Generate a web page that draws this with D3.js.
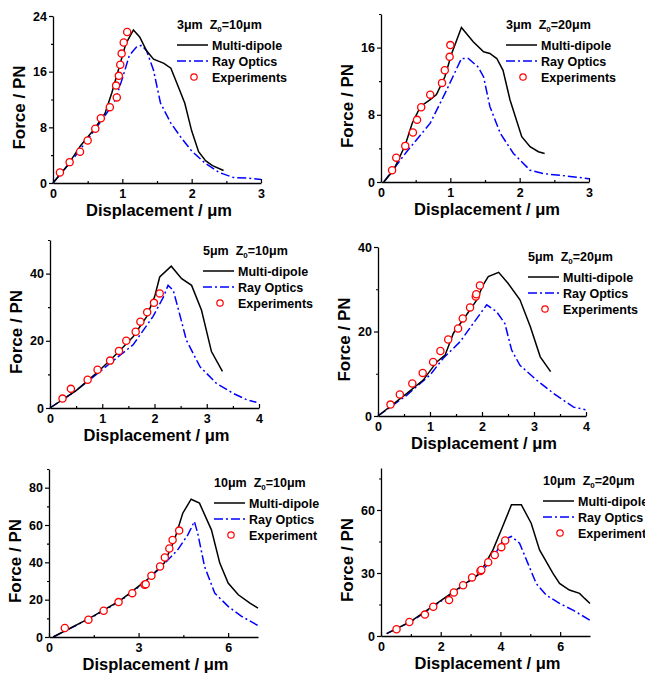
<!DOCTYPE html>
<html>
<head>
<meta charset="utf-8">
<script src="https://cdn.jsdelivr.net/npm/d3@7"></script>
<style>
  body { margin: 0; background: #fff; }
  svg { display: block; font-family: "Liberation Sans", Arial, sans-serif; }
</style>
</head>
<body>
<svg id="canvas" width="645" height="673"></svg>
<script>
// ---- data ----
const titles = [["3μm", "10μm"], ["3μm", "20μm"], ["5μm", "10μm"], ["5μm", "20μm"], ["10μm", "10μm"], ["10μm", "20μm"]]
const expLabels = ["Experiments", "Experiments", "Experiments", "Experiments", "Experiment", "Experiment"]
const xMax = [3, 3, 4, 4, 7, 7]
const yMax = [24, 20, 50, 40, 90, 80]
const xTicks = [[0, 1, 2, 3], [0, 1, 2, 3], [0, 1, 2, 3, 4], [0, 1, 2, 3, 4], [0, 3, 6], [0, 2, 4, 6]]
const yTicks = [[0, 8, 16, 24], [0, 8, 16], [0, 20, 40], [0, 20, 40], [0, 20, 40, 60, 80], [0, 30, 60]]

const multi1 = [[0, 0], [0.2, 2.4], [0.4, 5.4], [0.6, 7.8], [0.75, 10], [0.85, 13], [0.95, 16.5], [1.05, 20], [1.16, 22], [1.25, 21], [1.35, 19], [1.45, 17.8], [1.6, 17.2], [1.7, 16.5], [1.8, 14], [1.9, 11.5], [2.0, 7.5], [2.1, 4.5], [2.2, 3.2], [2.3, 2.5], [2.46, 1.8]]
const ray1 = [[0, 0], [0.3, 3.6], [0.6, 7.6], [0.8, 10.4], [0.9, 12], [1.0, 15], [1.1, 18.3], [1.2, 19.5], [1.28, 19.8], [1.35, 19], [1.45, 16.2], [1.55, 11.5], [1.7, 8.6], [1.85, 6.5], [2.0, 4.6], [2.2, 2.8], [2.4, 1.5], [2.6, 0.8], [2.8, 0.7], [3.0, 0.5]]
const exp1 = [[0.1, 1.5], [0.24, 3.0], [0.39, 4.5], [0.5, 6.1], [0.61, 7.8], [0.69, 9.3], [0.82, 10.9], [0.92, 12.3], [0.91, 14.0], [0.95, 15.4], [0.97, 17.0], [0.99, 18.6], [1.02, 20.2], [1.07, 21.7]]

const multi2 = [[0.04, 0], [0.18, 1.4], [0.35, 4.4], [0.45, 7], [0.57, 9], [0.71, 9.8], [0.8, 10.4], [0.92, 12.5], [1.02, 15.3], [1.16, 18.4], [1.33, 16.7], [1.48, 15.5], [1.57, 15.3], [1.67, 14.7], [1.76, 13.3], [1.86, 9.8], [2.03, 5.4], [2.15, 4.2], [2.27, 3.6], [2.36, 3.4]]
const ray2 = [[0.04, 0], [0.37, 3.6], [0.71, 7], [0.95, 11], [1.16, 14.7], [1.26, 14.7], [1.4, 13.7], [1.48, 12.5], [1.57, 9], [1.72, 5.8], [1.91, 3.4], [2.15, 1.4], [2.34, 1.0], [2.58, 0.8], [3.0, 0.4]]
const exp2 = [[0.16, 1.4], [0.22, 2.9], [0.35, 4.3], [0.46, 5.9], [0.52, 7.4], [0.58, 8.9], [0.71, 10.4], [0.88, 11.8], [0.92, 13.3], [0.99, 14.9], [1.0, 16.3]]

const multi3 = [[0, 0], [0.5, 5.2], [0.96, 11.4], [1.3, 16.5], [1.59, 21.2], [1.85, 27.2], [2.0, 33], [2.1, 39], [2.32, 42.2], [2.52, 38.5], [2.71, 36.5], [2.9, 29.1], [3.09, 16.8], [3.3, 10.9]]
const ray3 = [[0, 0], [0.5, 5.2], [0.96, 10.9], [1.3, 15.2], [1.59, 18.8], [1.97, 27.2], [2.17, 33], [2.26, 36.5], [2.36, 35], [2.48, 28], [2.61, 20.2], [2.87, 12.3], [3.18, 7.4], [3.5, 4.4], [3.76, 2.5], [3.95, 1.7]]
const exp3 = [[0.24, 2.8], [0.4, 5.7], [0.72, 8.4], [0.91, 11.4], [1.15, 14.1], [1.32, 17], [1.46, 20], [1.64, 22.7], [1.73, 25.7], [1.86, 28.5], [1.99, 31.3], [2.1, 34.1]]

const multi4 = [[0, 0], [0.55, 5.3], [0.87, 8.5], [1.13, 12.8], [1.29, 14.4], [1.45, 19.6], [1.7, 23.9], [1.9, 27.5], [2.02, 31], [2.12, 33], [2.32, 34], [2.5, 31.4], [2.73, 27.5], [2.93, 21.1], [3.12, 14], [3.32, 10.5]]
const ray4 = [[0, 0], [0.55, 4.9], [1.0, 9.7], [1.25, 13.6], [1.58, 17.6], [1.83, 21.9], [2.09, 26.3], [2.28, 24.7], [2.44, 21.9], [2.57, 15.6], [2.73, 12], [3.05, 8.5], [3.38, 5.3], [3.76, 2.1], [3.99, 1.5]]
const exp4 = [[0.24, 2.7], [0.42, 5.1], [0.66, 7.7], [0.86, 10.2], [1.06, 12.8], [1.2, 15.4], [1.35, 18.1], [1.54, 20.7], [1.63, 23.1], [1.77, 25.7], [1.88, 28.3], [1.89, 28.8], [1.96, 30.9]]

const multi5 = [[0.14, 0], [1.38, 10.2], [2.39, 19.6], [3.29, 30.7], [3.86, 39.6], [4.2, 52], [4.48, 66.3], [4.76, 73.8], [5.04, 71.7], [5.44, 57.4], [5.72, 39.6], [6.0, 28.9], [6.34, 22.6], [6.73, 18.2], [7.0, 15.5]]
const ray5 = [[0.14, 0], [1.38, 10], [2.39, 19.3], [3.29, 30.4], [3.86, 39.2], [4.31, 46.7], [4.65, 54.7], [4.87, 61.9], [4.98, 55.6], [5.21, 37.8], [5.55, 23.5], [6.0, 16.4], [6.45, 11.1], [7.0, 6.1]]
const exp5 = [[0.53, 4.8], [1.32, 9.3], [1.83, 14.1], [2.33, 18.7], [2.79, 23.5], [3.2, 28.0], [3.24, 28.3], [3.43, 32.8], [3.72, 37.8], [3.88, 42.6], [4.03, 47.4], [4.14, 52], [4.36, 57]]

const multi6 = [[0.19, 1.1], [1.0, 7.0], [1.75, 14.4], [2.75, 24.2], [3.31, 29.8], [3.75, 41], [4.03, 50.6], [4.37, 62.5], [4.7, 62.5], [5.03, 53.7], [5.31, 41], [5.76, 29.8], [5.98, 25], [6.31, 21.9], [6.65, 20.3], [6.82, 17.9], [7.0, 15.5]]
const ray6 = [[0.19, 1.1], [1.0, 6.8], [1.75, 14], [2.75, 24], [3.31, 29.8], [3.75, 37], [4.09, 45.8], [4.37, 47.4], [4.64, 44.2], [4.92, 34.6], [5.2, 25], [5.53, 19.5], [5.98, 15.5], [6.43, 12.3], [7.0, 7.5]]
const exp6 = [[0.52, 3.2], [0.95, 6.7], [1.47, 10.2], [1.75, 13.9], [2.28, 17.1], [2.44, 20.7], [2.75, 24.2], [3.05, 27.9], [3.33, 31.0], [3.36, 31.4], [3.59, 35.1], [3.81, 38.6], [4.03, 42.3], [4.16, 45.5]]

const multiSeries = [multi1, multi2, multi3, multi4, multi5, multi6]
const raySeries = [ray1, ray2, ray3, ray4, ray5, ray6]
const expSeries = [exp1, exp2, exp3, exp4, exp5, exp6]

// ---- layout: plot boxes in pixels [left, right, top, bottom] and legend anchors ----
const boxes = [[53, 261, 16, 183], [381, 589, 14, 182], [50, 259, 240, 408], [378, 586, 247, 416], [49, 258, 469, 637], [381, 590, 468, 636]]
const legendAt = [[177, 25], [506, 25], [203, 251], [528, 257], [214, 483], [543, 481]]

const svg = d3.select("#canvas")

boxes.forEach((b, i) => {
    const x = d3.scaleLinear().domain([0, xMax[i]]).range([b[0], b[1]])
    const y = d3.scaleLinear().domain([0, yMax[i]]).range([b[3], b[2]])
    const g = svg.append("g")

    // minor ticks halfway between majors
    const xs = xTicks[i], ys = yTicks[i]
    const xStep = xs[1] - xs[0], yStep = ys[1] - ys[0]
    const xMinor = d3.range(xStep / 2, xMax[i], xStep)
    const yMinor = d3.range(yStep / 2, yMax[i] + 0.001, yStep).filter(v => v <= yMax[i])

    const xAxis = g.append("g").attr("transform", `translate(0,${b[3]})`)
        .call(d3.axisBottom(x).tickValues(xs).tickSizeInner(-4).tickSizeOuter(0).tickPadding(6).tickFormat(d3.format("d")))
    xAxis.append("g").call(d3.axisBottom(x).tickValues(xMinor).tickSize(-2).tickFormat(""))
        .select(".domain").remove()

    const yAxis = g.append("g").attr("transform", `translate(${b[0]},0)`)
        .call(d3.axisLeft(y).tickValues(ys).tickSizeInner(4).tickSizeOuter(0).tickPadding(2).tickFormat(d3.format("d")))
    yAxis.append("g").call(d3.axisLeft(y).tickValues(yMinor).tickSize(2).tickFormat(""))
        .select(".domain").remove()

    g.selectAll(".domain").attr("stroke", "#000").attr("stroke-width", 1.3)
    g.selectAll(".tick line").attr("stroke", "#000").attr("stroke-width", 1.2)
    g.selectAll(".tick text").attr("font-size", 12.5).attr("font-weight", "bold")
        .attr("font-family", "Liberation Sans, Arial, sans-serif").attr("fill", "#000")

    // axis titles
    g.append("text").attr("x", (b[0] + b[1]) / 2 + 2).attr("y", b[3] + 33)
        .attr("text-anchor", "middle").attr("font-size", 16.5).attr("font-weight", "bold")
        .text("Displacement / μm")
    g.append("text").attr("transform", `translate(${b[0] - 28},${(b[2] + b[3]) / 2 + 8}) rotate(-90)`)
        .attr("text-anchor", "middle").attr("font-size", 17).attr("font-weight", "bold")
        .text("Force / PN")

    const line = d3.line().x(d => x(d[0])).y(d => y(d[1]))
    g.append("path").datum(raySeries[i]).attr("d", line)
        .attr("fill", "none").attr("stroke", "#0000ff").attr("stroke-width", 1.5)
        .attr("stroke-dasharray", "9,3,2,3")
    g.append("path").datum(multiSeries[i]).attr("d", line)
        .attr("fill", "none").attr("stroke", "#000").attr("stroke-width", 1.5)
    g.selectAll("circle.exp").data(expSeries[i]).enter().append("circle")
        .attr("class", "exp")
        .attr("cx", d => x(d[0])).attr("cy", d => y(d[1])).attr("r", 3.6)
        .attr("fill", "#fff").attr("stroke", "#ff0000").attr("stroke-width", 1.3)

    // legend
    const lx = legendAt[i][0], ly = legendAt[i][1]
    const t = g.append("text").attr("x", lx).attr("y", ly + 4)
        .attr("font-size", 12.5).attr("font-weight", "bold")
    t.append("tspan").text(titles[i][0])
    t.append("tspan").attr("dx", 7).text("Z")
    t.append("tspan").attr("font-size", 8).attr("dy", 3).text("0")
    t.append("tspan").attr("dy", -3).text("=" + titles[i][1])

    const rows = [ly + 20, ly + 36, ly + 52]
    g.append("line").attr("x1", lx).attr("x2", lx + 31).attr("y1", rows[0]).attr("y2", rows[0])
        .attr("stroke", "#000").attr("stroke-width", 1.5)
    g.append("line").attr("x1", lx).attr("x2", lx + 31).attr("y1", rows[1]).attr("y2", rows[1])
        .attr("stroke", "#0000ff").attr("stroke-width", 1.5).attr("stroke-dasharray", "9,3,2,3")
    g.append("circle").attr("cx", lx + 17).attr("cy", rows[2]).attr("r", 3.2)
        .attr("fill", "#fff").attr("stroke", "#ff0000").attr("stroke-width", 1.2)
    const labels = ["Multi-dipole", "Ray Optics", expLabels[i]]
    labels.forEach((s, k) => {
        g.append("text").attr("x", lx + 35).attr("y", rows[k] + 4.5)
            .attr("font-size", 12.5).attr("font-weight", "bold").text(s)
    })
})
</script>
</body>
</html>
